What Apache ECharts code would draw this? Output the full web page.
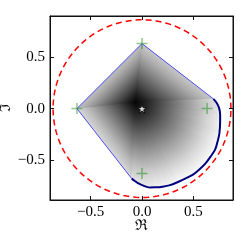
<!DOCTYPE html>
<html><head><meta charset="utf-8">
<style>html,body{margin:0;padding:0;background:#fff}#c{width:241px;height:241px}</style>
<script src="https://cdn.jsdelivr.net/npm/echarts@6/dist/echarts.min.js"></script>
</head><body><div id="c"></div>
<script>
// Tick labels
const realTicks = [-0.5, 0.0, 0.5];
const imagTicks = [-0.5, 0.0, 0.5];
// Thin blue polygon edges (right corner -> top -> left -> bottom-left corner)
const edgeX = [0.694, 0.0, -0.633, -0.100];
const edgeY = [0.095, 0.633, 0.0, -0.682];
// Field lightness (0 black .. 1 white) at those edge vertices
const edgeShade = [0.86, 0.70, 0.80, 0.88];
// Thick boundary curve (top-right -> bottom-left)
const curveX = [0.694, 0.727, 0.750, 0.760, 0.760, 0.753, 0.740, 0.711, 0.665, 0.620, 0.560, 0.500, 0.435, 0.350, 0.273, 0.200, 0.127, 0.078, 0.046, 0.000, -0.040, -0.070, -0.100];
const curveY = [0.095, 0.055, 0.005, -0.060, -0.120, -0.240, -0.300, -0.400, -0.470, -0.530, -0.590, -0.640, -0.675, -0.715, -0.745, -0.760, -0.767, -0.768, -0.762, -0.745, -0.725, -0.705, -0.682];
// Field lightness along the curve
const curveShade = [0.86, 0.88, 0.90, 0.92, 0.94, 0.96, 0.97, 0.98, 0.98, 0.98, 0.98, 0.98, 0.98, 0.97, 0.96, 0.95, 0.94, 0.93, 0.92, 0.91, 0.90, 0.89, 0.88];
// Eigenvalue markers (+)
const plusX = [0.0, -0.633, 0.633, 0.0];
const plusY = [0.633, 0.0, 0.0, -0.633];
// Star at origin
const starX = [0.0];
const starY = [0.0];
// Dark centre of the shaded field and its lightness
const centreXY = [-0.065, 0.065];
const centreShade = [0.02];
// Dashed circle radius
const circleR = [0.865];

const chart = echarts.init(document.getElementById('c'));

const rc = curveX.map((x, i) => i).reverse();
const bX = [edgeX[1], edgeX[2]].concat(rc.map(i => curveX[i])).concat([edgeX[1]]);
const bY = [edgeY[1], edgeY[2]].concat(rc.map(i => curveY[i])).concat([edgeY[1]]);
const bS = [edgeShade[1], edgeShade[2]].concat(rc.map(i => curveShade[i])).concat([edgeShade[1]]);
const segData = [];
for (let i = 0; i < bX.length - 1; i++) segData.push([bX[i], bY[i], bX[i+1], bY[i+1], (bS[i] + bS[i+1]) / 2]);

const profOff = [0, 0.15, 0.35, 0.6, 0.82, 1];
const profVal = [0, 0.15, 0.375, 0.64, 0.86, 1];
function grayHex(l) {
  const g = Math.max(0, Math.min(255, Math.round(l * 255)));
  const h = g.toString(16).padStart(2, '0');
  return '#' + h + h + h;
}
function makeStops(endL) {
  const c0 = centreShade[0];
  return profOff.map((o, k) => ({offset: o, color: grayHex(c0 + (endL - c0) * profVal[k])}));
}

const pair = (xs, ys) => xs.map((x, i) => [x, ys[i]]);
const fmt = v => (v < 0 ? '\u2212' : '') + Math.abs(v).toFixed(1);

const lineCol = '#111';
const XMIN = -0.895, XMAX = 0.885, YMIN = -0.89, YMAX = 0.902;

chart.setOption({
  animation: false,
  grid: {left: 50, top: 16, right: 8, bottom: 41, outerBoundsMode: 'none',
         show: true, borderColor: lineCol, borderWidth: 1},
  xAxis: [
    {
      type: 'value', min: XMIN, max: XMAX, position: 'bottom', z: 10,
      splitLine: {show: false},
      axisLine: {show: true, onZero: false, lineStyle: {color: lineCol, width: 1}},
      axisTick: {show: true, inside: true, length: 4, customValues: realTicks, lineStyle: {color: lineCol, width: 1}},
      axisLabel: {customValues: realTicks, formatter: fmt, margin: 5, fontFamily: 'Liberation Serif', fontSize: 15, color: '#000'},
      name: '\u211C', nameLocation: 'middle', nameGap: 19, nameMoveOverlap: false,
      nameTextStyle: {fontFamily: 'DejaVu Serif', fontSize: 15, color: '#000'}
    },
    {
      type: 'value', min: XMIN, max: XMAX, position: 'top', z: 10,
      splitLine: {show: false},
      axisLine: {show: true, onZero: false, lineStyle: {color: lineCol, width: 1}},
      axisTick: {show: true, inside: true, length: 4, customValues: realTicks, lineStyle: {color: lineCol, width: 1}},
      axisLabel: {show: false}
    }
  ],
  yAxis: [
    {
      type: 'value', min: YMIN, max: YMAX, position: 'left', z: 10,
      splitLine: {show: false},
      axisLine: {show: true, onZero: false, lineStyle: {color: lineCol, width: 1}},
      axisTick: {show: true, inside: true, length: 4, customValues: imagTicks, lineStyle: {color: lineCol, width: 1}},
      axisLabel: {customValues: imagTicks, formatter: fmt, margin: 5, fontFamily: 'Liberation Serif', fontSize: 15, color: '#000'},
      name: '\u2111', nameLocation: 'middle', nameGap: 36, nameMoveOverlap: false,
      nameTextStyle: {fontFamily: 'DejaVu Serif', fontSize: 15, color: '#000'}
    },
    {
      type: 'value', min: YMIN, max: YMAX, position: 'right', z: 10,
      splitLine: {show: false},
      axisLine: {show: true, onZero: false, lineStyle: {color: lineCol, width: 1}},
      axisTick: {show: true, inside: true, length: 4, customValues: imagTicks, lineStyle: {color: lineCol, width: 1}},
      axisLabel: {show: false}
    }
  ],
  series: [
    {
      type: 'custom', z: 1, silent: true,
      encode: {x: 0, y: 1},
      data: [[centreXY[0], centreXY[1]]],
      renderItem: function (params, api) {
        const C = api.coord(centreXY);
        const pts = bX.map((x, i) => api.coord([x, bY[i]]));
        let r = 0;
        pts.forEach(p => { r += Math.hypot(p[0] - C[0], p[1] - C[1]); });
        r /= pts.length;
        const grad = new echarts.graphic.RadialGradient(C[0], C[1], r, makeStops(0.9), true);
        return {type: 'polygon', shape: {points: pts}, style: {fill: grad}};
      }
    },
    {
      type: 'custom', z: 2, silent: true,
      encode: {x: [0, 2], y: [1, 3]},
      data: segData,
      renderItem: function (params, api) {
        const A = api.coord([api.value(0), api.value(1)]);
        const B = api.coord([api.value(2), api.value(3)]);
        const endL = api.value(4);
        const C = api.coord(centreXY);
        const dx = B[0] - A[0], dy = B[1] - A[1];
        const L2 = dx * dx + dy * dy || 1;
        const t = ((C[0] - A[0]) * dx + (C[1] - A[1]) * dy) / L2;
        const F = [A[0] + t * dx, A[1] + t * dy];
        const grad = new echarts.graphic.LinearGradient(C[0], C[1], F[0], F[1], makeStops(endL), true);
        return {type: 'polygon', shape: {points: [C, A, B]}, style: {fill: grad}};
      }
    },
    {
      type: 'line', z: 3, data: pair(edgeX, edgeY), showSymbol: false, silent: true,
      lineStyle: {color: '#4f4ff5', width: 1}
    },
    {
      type: 'line', z: 4, data: pair(curveX, curveY), showSymbol: false, silent: true, smooth: 0.3,
      lineStyle: {color: '#000080', width: 2}
    },
    {
      type: 'custom', z: 5, silent: true,
      encode: {x: 0, y: 1},
      data: [[0, 0, circleR[0]]],
      renderItem: function (params, api) {
        const cx = api.value(0), cy = api.value(1), r = api.value(2);
        const pts = [];
        for (let k = 0; k <= 180; k++) {
          const a = k / 180 * Math.PI * 2;
          pts.push(api.coord([cx + r * Math.cos(a), cy + r * Math.sin(a)]));
        }
        return {
          type: 'polyline',
          shape: {points: pts},
          style: {fill: 'none', stroke: '#ff0000', lineWidth: 1.5, lineDash: [6, 4]}
        };
      }
    },
    {
      type: 'scatter', z: 6, silent: true, data: pair(plusX, plusY),
      symbol: 'path://M5 0L5 10M0 5L10 5', symbolSize: 11,
      itemStyle: {color: 'rgba(0,0,0,0)', borderColor: 'rgba(0,128,0,0.55)', borderWidth: 1.5}
    },
    {
      type: 'scatter', z: 7, silent: true, data: pair(starX, starY),
      symbol: 'path://M50,0L61,35L98,35L68,57L79,91L50,70L21,91L32,57L2,35L39,35Z', symbolSize: 9,
      itemStyle: {color: '#ffffff', borderColor: '#000000', borderWidth: 1}
    }
  ]
});
</script>
</body></html>
